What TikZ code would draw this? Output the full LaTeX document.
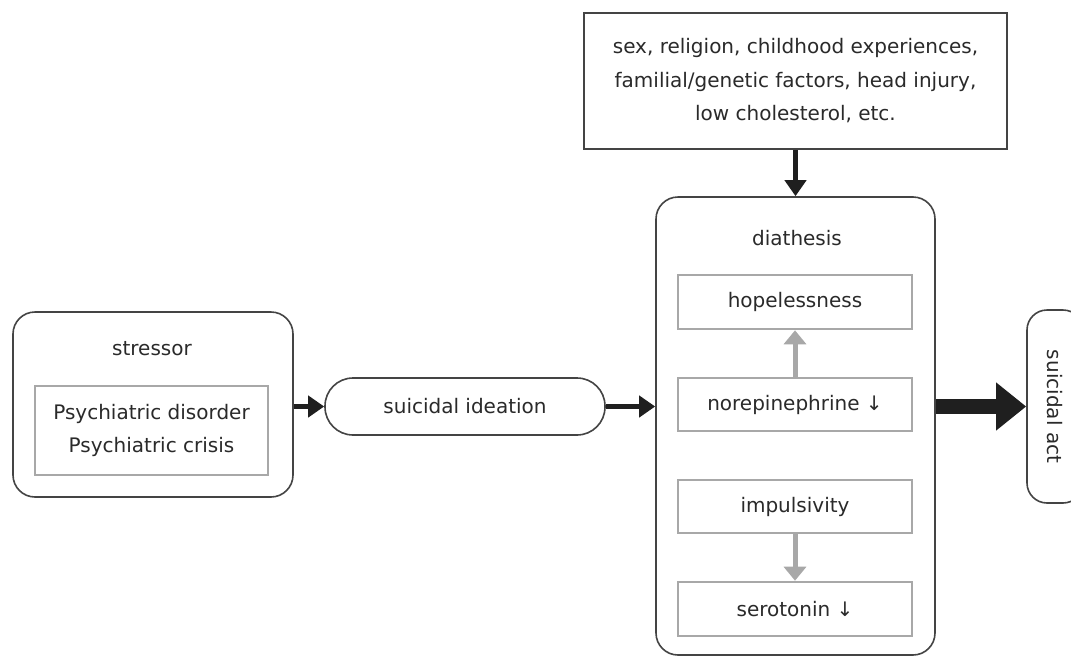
\documentclass[tikz,border=0pt]{standalone}
\usepackage{fontspec}
\setmainfont{DejaVu Sans}
\usetikzlibrary{arrows.meta}
\definecolor{txt}{HTML}{2A2A2A}
\definecolor{edge}{HTML}{444444}
\definecolor{lgray}{HTML}{A8A8A8}
\begin{document}
\begin{tikzpicture}[x=1pt,y=-1pt,
  every node/.style={font=\fontsize{20}{33.5}\selectfont, text=txt, inner sep=0pt, align=center},
  outerbox/.style={draw=edge, line width=1.6pt, rounded corners=22pt},
  plainbox/.style={draw=edge, line width=1.8pt},
  innerbox/.style={draw=lgray, line width=2.6pt},
  blk/.style={line width=5pt, draw=black!88, -{Triangle[length=16pt,width=21pt]}},
  bigar/.style={line width=15pt, draw=black!88, -{Triangle[length=30pt,width=46pt]}},
  gar/.style={line width=5pt, draw=lgray, -{Triangle[length=14pt,width=22pt]}}
]
\clip (0,0) rectangle (1071,659);
\fill[white] (0,0) rectangle (1071,659);

\node[plainbox, minimum width=423pt, minimum height=136pt] (factors) at (795.5,81)
  {sex, religion, childhood experiences,\\ familial/genetic factors, head injury,\\ low cholesterol, etc.};

\node[outerbox, minimum width=279pt, minimum height=458pt] (diathesis) at (795.5,426) {};
\node (diathlabel) at (797,238) {diathesis};
\node[innerbox, minimum width=234pt, minimum height=54pt] (hope) at (795,302) {hopelessness};
\node[innerbox, minimum width=234pt, minimum height=53pt] (norepi) at (795,404.5) {norepinephrine ↓};
\node[innerbox, minimum width=234pt, minimum height=53pt] (impuls) at (795,506.5) {impulsivity};
\node[innerbox, minimum width=234pt, minimum height=54pt] (serot) at (795,609) {serotonin ↓};

\node[outerbox, minimum width=280pt, minimum height=185pt] (stressor) at (153,404.5) {};
\node (stresslabel) at (152,349) {stressor};
\node[innerbox, minimum width=233pt, minimum height=89pt] (psych) at (151.5,430.5)
  {Psychiatric disorder\\ Psychiatric crisis};

\node[draw=edge, line width=1.6pt, rounded corners=28pt, minimum width=280pt, minimum height=57pt] (ideation) at (465,406.5) {suicidal ideation};

\node[draw=edge, line width=1.6pt, rounded corners=20pt, rotate=-90, minimum width=193pt, minimum height=56pt] (act) at (1055,406.5) {suicidal act};

\draw[blk] (stressor.east |- ideation.west) -- (ideation.west);
\draw[blk] (ideation.east) -- (ideation.east -| diathesis.west);
\draw[blk] (factors.south) -- (diathesis.north);
\draw[bigar] (diathesis.east |- act.south) -- (act.south);
\draw[gar] (norepi.north) -- (hope.south);
\draw[gar] (impuls.south) -- (serot.north);
\end{tikzpicture}
\end{document}
